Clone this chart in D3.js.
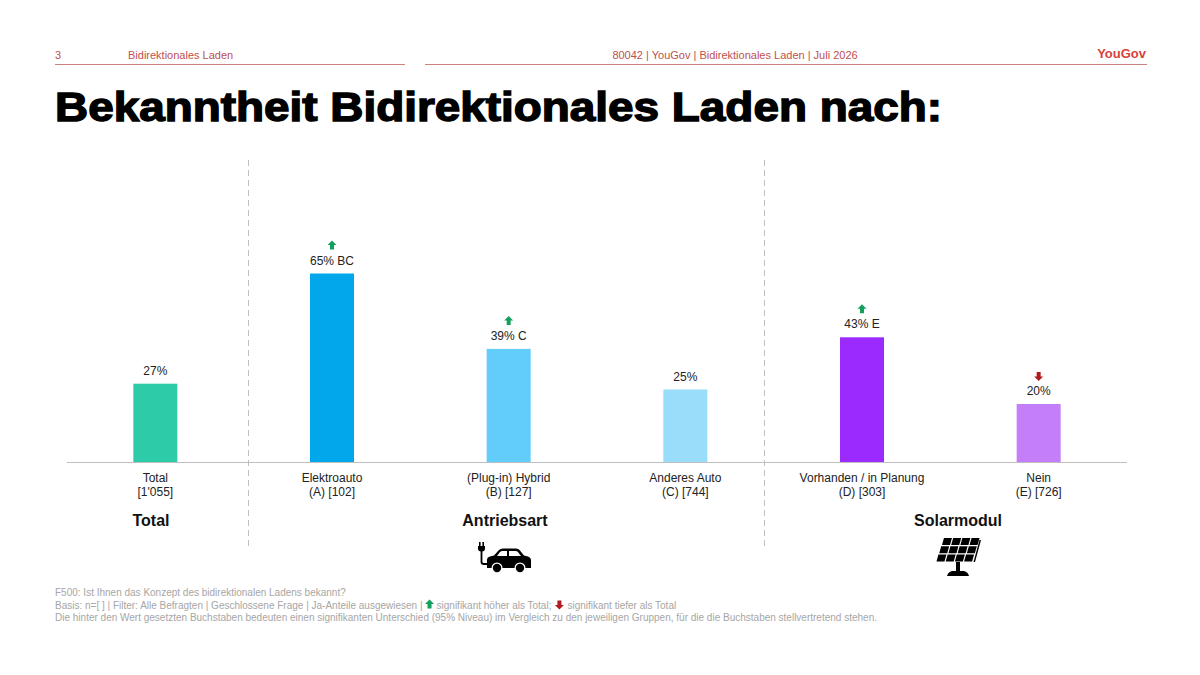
<!DOCTYPE html>
<html lang="de">
  <head>
    <meta charset="UTF-8" />
    <title>Bekanntheit Bidirektionales Laden</title>
    <script src="https://d3js.org/d3.v7.min.js"></script>
    <style>
      body { margin: 0; background: #fff; }
      text { font-family: "Liberation Sans", Arial, sans-serif; }
    </style>
  </head>
  <body>
    <svg id="chart" width="1200" height="675"></svg>
    <script>
      // data
      const categories = ["Total", "Elektroauto", "(Plug-in) Hybrid", "Anderes Auto", "Vorhanden / in Planung", "Nein"];
      const subLabels = ["[1'055]", "(A) [102]", "(B) [127]", "(C) [744]", "(D) [303]", "(E) [726]"];
      const values = [27, 65, 39, 25, 43, 20];
      const letters = ["", "BC", "C", "", "E", ""];
      const signif = ["", "up", "up", "", "up", "down"];
      const barColors = ["#2ECBA9", "#02A6EA", "#62CCFA", "#9ADDFA", "#9B2AFF", "#C47EF8"];
      const groups = ["Total", "Antriebsart", "Solarmodul"];
      const footnotes = [
        "F500: Ist Ihnen das Konzept des bidirektionalen Ladens bekannt?",
        "Basis: n=[ ] | Filter: Alle Befragten | Geschlossene Frage | Ja-Anteile ausgewiesen |",
        "Die hinter den Wert gesetzten Buchstaben bedeuten einen signifikanten Unterschied (95% Niveau) im Vergleich zu den jeweiligen Gruppen, für die die Buchstaben stellvertretend stehen."
      ];

      const svg = d3.select("#chart");
      const red = "#C0504D";

      // header
      svg.append("text").attr("x", 55).attr("y", 59).attr("font-size", 11).attr("fill", red).text("3");
      svg.append("text").attr("x", 128).attr("y", 59).attr("font-size", 11).attr("fill", red).text("Bidirektionales Laden");
      svg.append("text").attr("x", 735).attr("y", 59).attr("font-size", 11).attr("fill", red)
        .attr("text-anchor", "middle").text("80042 | YouGov | Bidirektionales Laden | Juli 2026");
      svg.append("text").attr("x", 1146).attr("y", 58).attr("font-size", 13).attr("font-weight", "bold")
        .attr("fill", "#D8423A").attr("text-anchor", "end").text("YouGov");
      [[55, 405], [425, 1147]].forEach(([a, b]) => {
        svg.append("line").attr("x1", a).attr("x2", b).attr("y1", 64.5).attr("y2", 64.5)
          .attr("stroke", "#C9827F").attr("stroke-width", 1.2);
      });

      // title
      svg.append("text").attr("x", 55).attr("y", 121).attr("font-size", 40).attr("font-weight", "bold")
        .attr("fill", "#000").attr("stroke", "#000").attr("stroke-width", 1.4)
        .attr("textLength", 887).attr("lengthAdjust", "spacingAndGlyphs")
        .text("Bekanntheit Bidirektionales Laden nach:");

      // scales
      const x = d3.scaleBand().domain(categories).range([67, 1127]);
      const y = d3.scaleLinear().domain([0, 100]).range([462, 172]);
      const barW = 44;
      const cx = d => x(d) + x.bandwidth() / 2;

      // group separators
      [[1, 4], [4, -10]].forEach(([i, off]) => {
        const sx = Math.round(x(categories[i]) + off) + 0.5;
        svg.append("line").attr("x1", sx).attr("x2", sx).attr("y1", 160).attr("y2", 549)
          .attr("stroke", "#BFBFBF").attr("stroke-dasharray", "6,4").attr("stroke-width", 1);
      });

      // bars
      svg.selectAll("rect.bar").data(categories).join("rect")
        .attr("class", "bar")
        .attr("x", d => cx(d) - barW / 2)
        .attr("y", (d, i) => y(values[i]))
        .attr("width", barW)
        .attr("height", (d, i) => y(0) - y(values[i]))
        .attr("fill", (d, i) => barColors[i]);

      // baseline
      svg.append("line").attr("x1", 67).attr("x2", 1127).attr("y1", y(0) + 0.5).attr("y2", y(0) + 0.5)
        .attr("stroke", "#BFBFBF").attr("stroke-width", 1);

      // value labels
      svg.selectAll("text.val").data(categories).join("text")
        .attr("class", "val")
        .attr("x", d => cx(d))
        .attr("y", (d, i) => y(values[i]) - 9)
        .attr("text-anchor", "middle").attr("font-size", 12).attr("fill", "#222")
        .text((d, i) => values[i] + "%" + (letters[i] ? " " + letters[i] : ""));

      // significance arrows
      const arrowUp = "M0,-5 L4.5,-0.5 L2,-0.5 L2,4 L-2,4 L-2,-0.5 L-4.5,-0.5 Z";
      const arrowDown = "M0,5 L4.5,0.5 L2,0.5 L2,-4 L-2,-4 L-2,0.5 L-4.5,0.5 Z";
      function arrow(g, dir, tx, ty) {
        g.append("path").attr("d", dir === "up" ? arrowUp : arrowDown)
          .attr("transform", `translate(${tx},${ty})`)
          .attr("fill", dir === "up" ? "#13A05B" : "#B01C1C");
      }
      categories.forEach((d, i) => {
        if (signif[i]) arrow(svg, signif[i], cx(d), y(values[i]) - 28);
      });

      // category labels
      svg.selectAll("text.cat").data(categories).join("text")
        .attr("class", "cat")
        .attr("x", d => cx(d)).attr("y", 482)
        .attr("text-anchor", "middle").attr("font-size", 12).attr("fill", "#222")
        .text(d => d);
      svg.selectAll("text.sub").data(categories).join("text")
        .attr("class", "sub")
        .attr("x", d => cx(d)).attr("y", 496)
        .attr("text-anchor", "middle").attr("font-size", 12).attr("fill", "#222")
        .text((d, i) => subLabels[i]);

      // group labels
      const groupX = [151, 505, 958];
      groups.forEach((g, i) => {
        svg.append("text").attr("x", groupX[i]).attr("y", 526)
          .attr("text-anchor", "middle").attr("font-size", 16).attr("font-weight", "bold")
          .attr("fill", "#111").text(g);
      });

      // car icon
      const car = svg.append("g").attr("transform", "translate(477,542)").attr("fill", "#000");
      car.append("rect").attr("x", 2).attr("y", 0).attr("width", 1.6).attr("height", 4);
      car.append("rect").attr("x", 5.4).attr("y", 0).attr("width", 1.6).attr("height", 4);
      car.append("path").attr("d", "M1,4 L8,4 L8,7 Q8,9 5.5,9.5 L3.5,9.5 Q1,9 1,7 Z");
      car.append("path").attr("d", "M4.5,9 L4.5,20 Q4.5,22 7,22 L11,22")
        .attr("fill", "none").attr("stroke", "#000").attr("stroke-width", 1.8);
      car.append("path")
        .attr("d", "M10,26 L10,18 Q10,15 13,14.5 L17,13.5 L22,8 Q23.5,6.5 26,6.5 L39,6.5 Q41.5,6.5 43,8.5 L47,13.5 L51,14.5 Q54,15.5 54,18.5 L54,26 Z M20,14 L30,14 L30,9 L25.5,9 Q24,9 23,10 Z M32,14 L44,14 L40.5,9.5 Q39.5,9 38.5,9 L32,9 Z")
        .attr("fill-rule", "evenodd");
      car.append("circle").attr("cx", 20).attr("cy", 26).attr("r", 5.5).attr("fill", "#fff");
      car.append("circle").attr("cx", 20).attr("cy", 26).attr("r", 4.2);
      car.append("circle").attr("cx", 43).attr("cy", 26).attr("r", 5.5).attr("fill", "#fff");
      car.append("circle").attr("cx", 43).attr("cy", 26).attr("r", 4.2);

      // solar panel icon
      const sol = svg.append("g").attr("transform", "translate(936,538)").attr("fill", "#000");
      const skew = 0.28;
      for (let r = 0; r < 3; r++) {
        for (let c = 0; c < 4; c++) {
          const x0 = 6 + c * 9.2 - r * 8.2 * skew * 1.2, y0 = r * 8.3;
          const w = 8, h = 7;
          sol.append("path").attr("d",
            `M${x0 + h * skew},${y0} L${x0 + w + h * skew},${y0} L${x0 + w},${y0 + h} L${x0},${y0 + h} Z`);
        }
      }
      sol.append("path").attr("d", "M43.5,2 L45,2 L39,24 L37.5,24 Z");
      sol.append("rect").attr("x", 20).attr("y", 24).attr("width", 4).attr("height", 9);
      sol.append("path").attr("d", "M16,33 L28,33 Q32,34 33,38 L11,38 Q12,34 16,33 Z");

      // footnotes
      const fnSize = 10, fnColor = "#A6A6A6";
      footnotes.forEach((t, i) => {
        svg.append("text").attr("x", 55).attr("y", 596 + i * 12.5)
          .attr("font-size", fnSize).attr("fill", fnColor).attr("class", "fn" + i).text(t);
      });
      // legend arrows in footnote line 2
      const w1 = svg.select("text.fn1").node().getComputedTextLength();
      arrow(svg, "up", 55 + w1 + 7, 604.5);
      const t2 = svg.append("text").attr("x", 55 + w1 + 14).attr("y", 608.5)
        .attr("font-size", fnSize).attr("fill", fnColor).text("signifikant höher als Total;");
      const x3 = 55 + w1 + 14 + t2.node().getComputedTextLength();
      arrow(svg, "down", x3 + 8, 604.5);
      svg.append("text").attr("x", x3 + 16).attr("y", 608.5)
        .attr("font-size", fnSize).attr("fill", fnColor).text("signifikant tiefer als Total");
    </script>
  </body>
</html>
